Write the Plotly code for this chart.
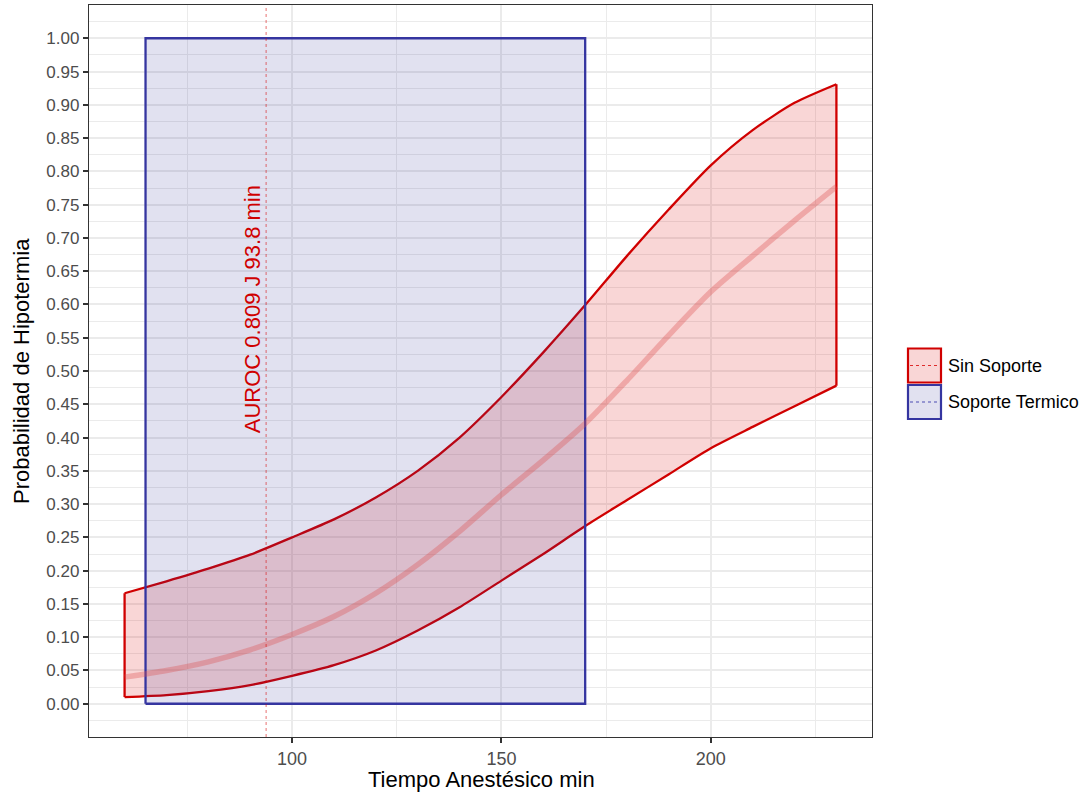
import plotly.graph_objects as go

# ---- data ----
tiempo = [60, 70, 80, 90, 100, 110, 120, 130, 140, 150, 160, 170, 180, 190, 200, 210, 220, 230]
prob_centro = [0.040, 0.050, 0.063, 0.081, 0.104, 0.131, 0.166, 0.209, 0.259, 0.314, 0.366, 0.421,
               0.486, 0.554, 0.619, 0.673, 0.726, 0.777]
prob_superior = [0.166, 0.184, 0.203, 0.224, 0.250, 0.277, 0.310, 0.350, 0.400, 0.461, 0.528, 0.599,
                 0.673, 0.743, 0.809, 0.862, 0.903, 0.931]
prob_inferior = [0.010, 0.013, 0.019, 0.028, 0.042, 0.058, 0.080, 0.110, 0.145, 0.185, 0.225, 0.267,
                 0.306, 0.345, 0.384, 0.416, 0.447, 0.478]

soporte_x = [65, 170]      # Soporte Termico window
soporte_y = [0.0, 1.0]

corte_j = 93.8
etiqueta_corte = "AUROC 0.809 J 93.8 min"
leyenda = ["Sin Soporte", "Soporte Termico"]

x_ticks = [100, 150, 200]
y_ticks = [i * 0.05 for i in range(21)]

x_title = "Tiempo Anestésico min"
y_title = "Probabilidad de Hipotermia"

RED = "#D00000"
BLUE = "#3535A0"
FONT = "Liberation Sans, Arial, sans-serif"
LW = 2.3

fig = go.Figure()

# red ribbon fill (upper then reversed lower)
fig.add_trace(go.Scatter(
    x=tiempo + tiempo[::-1] + [tiempo[0]],
    y=prob_superior + prob_inferior[::-1] + [prob_superior[0]],
    mode="lines", fill="toself", fillcolor="rgba(220,0,0,0.16)",
    line=dict(width=0), hoverinfo="skip", showlegend=False))

# ribbon outline: smooth bounds + vertical ends
for yy in (prob_superior, prob_inferior):
    fig.add_trace(go.Scatter(
        x=tiempo, y=yy, mode="lines",
        line=dict(color=RED, width=LW, shape="spline", smoothing=0.7),
        hoverinfo="skip", showlegend=False))
for i in (0, -1):
    fig.add_trace(go.Scatter(
        x=[tiempo[i], tiempo[i]], y=[prob_inferior[i], prob_superior[i]], mode="lines",
        line=dict(color=RED, width=LW), hoverinfo="skip", showlegend=False))

# blue rectangle
fig.add_trace(go.Scatter(
    x=[soporte_x[0], soporte_x[1], soporte_x[1], soporte_x[0], soporte_x[0]],
    y=[soporte_y[0], soporte_y[0], soporte_y[1], soporte_y[1], soporte_y[0]],
    mode="lines", fill="toself", fillcolor="rgba(40,40,150,0.14)",
    line=dict(color=BLUE, width=LW), hoverinfo="skip", showlegend=False))

# center line
fig.add_trace(go.Scatter(
    x=tiempo, y=prob_centro, mode="lines",
    line=dict(color="rgba(220,80,80,0.35)", width=5.5, shape="spline", smoothing=0.7),
    hoverinfo="skip", showlegend=False))

# vertical cut-off line
fig.add_trace(go.Scatter(
    x=[corte_j, corte_j], y=[-0.05, 1.05], mode="lines",
    line=dict(color="rgba(215,0,0,0.5)", width=1.1, dash="dot"),
    hoverinfo="skip", showlegend=False))

fig.add_annotation(x=corte_j, y=0.593, text=etiqueta_corte, textangle=-90,
                   showarrow=False, xanchor="center", yanchor="middle", xshift=-14,
                   font=dict(family=FONT, size=22, color=RED))

# manual legend (ggplot style keys) and axis titles
L = 89; W = 783; T = 5; H = 732
def px(xp): return (xp - L) / W
def py(yp): return (T + H - yp) / H

keys = [(348.5, 382.5, RED, "rgba(220,0,0,0.16)", "rgba(215,0,0,0.8)"),
        (385.0, 419.0, BLUE, "rgba(40,40,150,0.14)", "rgba(60,60,170,0.9)")]
for (y0, y1, lc, fc, dc), lab in zip(keys, leyenda):
    fig.add_shape(type="rect", xref="paper", yref="paper",
                  x0=px(908), x1=px(941), y0=py(y1), y1=py(y0),
                  line=dict(color=lc, width=2.2), fillcolor=fc, layer="above")
    ym = py((y0 + y1) / 2)
    fig.add_shape(type="line", xref="paper", yref="paper",
                  x0=px(910), x1=px(939), y0=ym, y1=ym,
                  line=dict(color=dc, width=1.2, dash="dot"), layer="above")
    fig.add_annotation(xref="paper", yref="paper", x=px(946), y=ym, text=lab,
                       showarrow=False, xanchor="left", yanchor="middle",
                       font=dict(family=FONT, size=18, color="#000000"))

fig.add_annotation(xref="paper", yref="paper", x=px(481), y=py(779), text=x_title,
                   showarrow=False, xanchor="center", yanchor="middle",
                   font=dict(family=FONT, size=22, color="#000000"))
fig.add_annotation(xref="paper", yref="paper", x=px(21), y=py(371), text=y_title,
                   textangle=-90, showarrow=False, xanchor="center", yanchor="middle",
                   font=dict(family=FONT, size=22, color="#000000"))

grid = "#EBEBEB"
fig.update_layout(
    width=1087, height=796,
    margin=dict(l=L, r=1087 - L - W, t=T, b=796 - T - H),
    paper_bgcolor="white", plot_bgcolor="white",
    showlegend=False,
    font=dict(family=FONT),
    xaxis=dict(
        range=[51.5, 238.5], tickmode="array", tickvals=x_ticks,
        ticktext=[str(v) for v in x_ticks], automargin=False,
        showgrid=True, gridcolor=grid, gridwidth=1.6,
        minor=dict(dtick=25, tick0=0, showgrid=True, gridcolor=grid, gridwidth=1.0),
        zeroline=False, showline=True, mirror=True, linecolor="#333333", linewidth=1.3,
        ticks="outside", ticklen=5, tickwidth=1.6, tickcolor="#333333",
        tickfont=dict(family=FONT, size=18, color="#4D4D4D"),
    ),
    yaxis=dict(
        range=[-0.05, 1.05], tickmode="array", tickvals=y_ticks,
        ticktext=[f"{v:.2f}" for v in y_ticks], automargin=False,
        showgrid=True, gridcolor=grid, gridwidth=1.6,
        minor=dict(dtick=0.025, tick0=0, showgrid=True, gridcolor=grid, gridwidth=1.0),
        zeroline=False, showline=True, mirror=True, linecolor="#333333", linewidth=1.3,
        ticks="outside", ticklen=5, tickwidth=1.6, tickcolor="#333333",
        tickfont=dict(family=FONT, size=17, color="#4D4D4D"),
    ),
)

fig.write_html("out.html", config={"displayModeBar": False},
               post_script="document.body.style.margin='0';document.body.style.overflow='hidden';")
